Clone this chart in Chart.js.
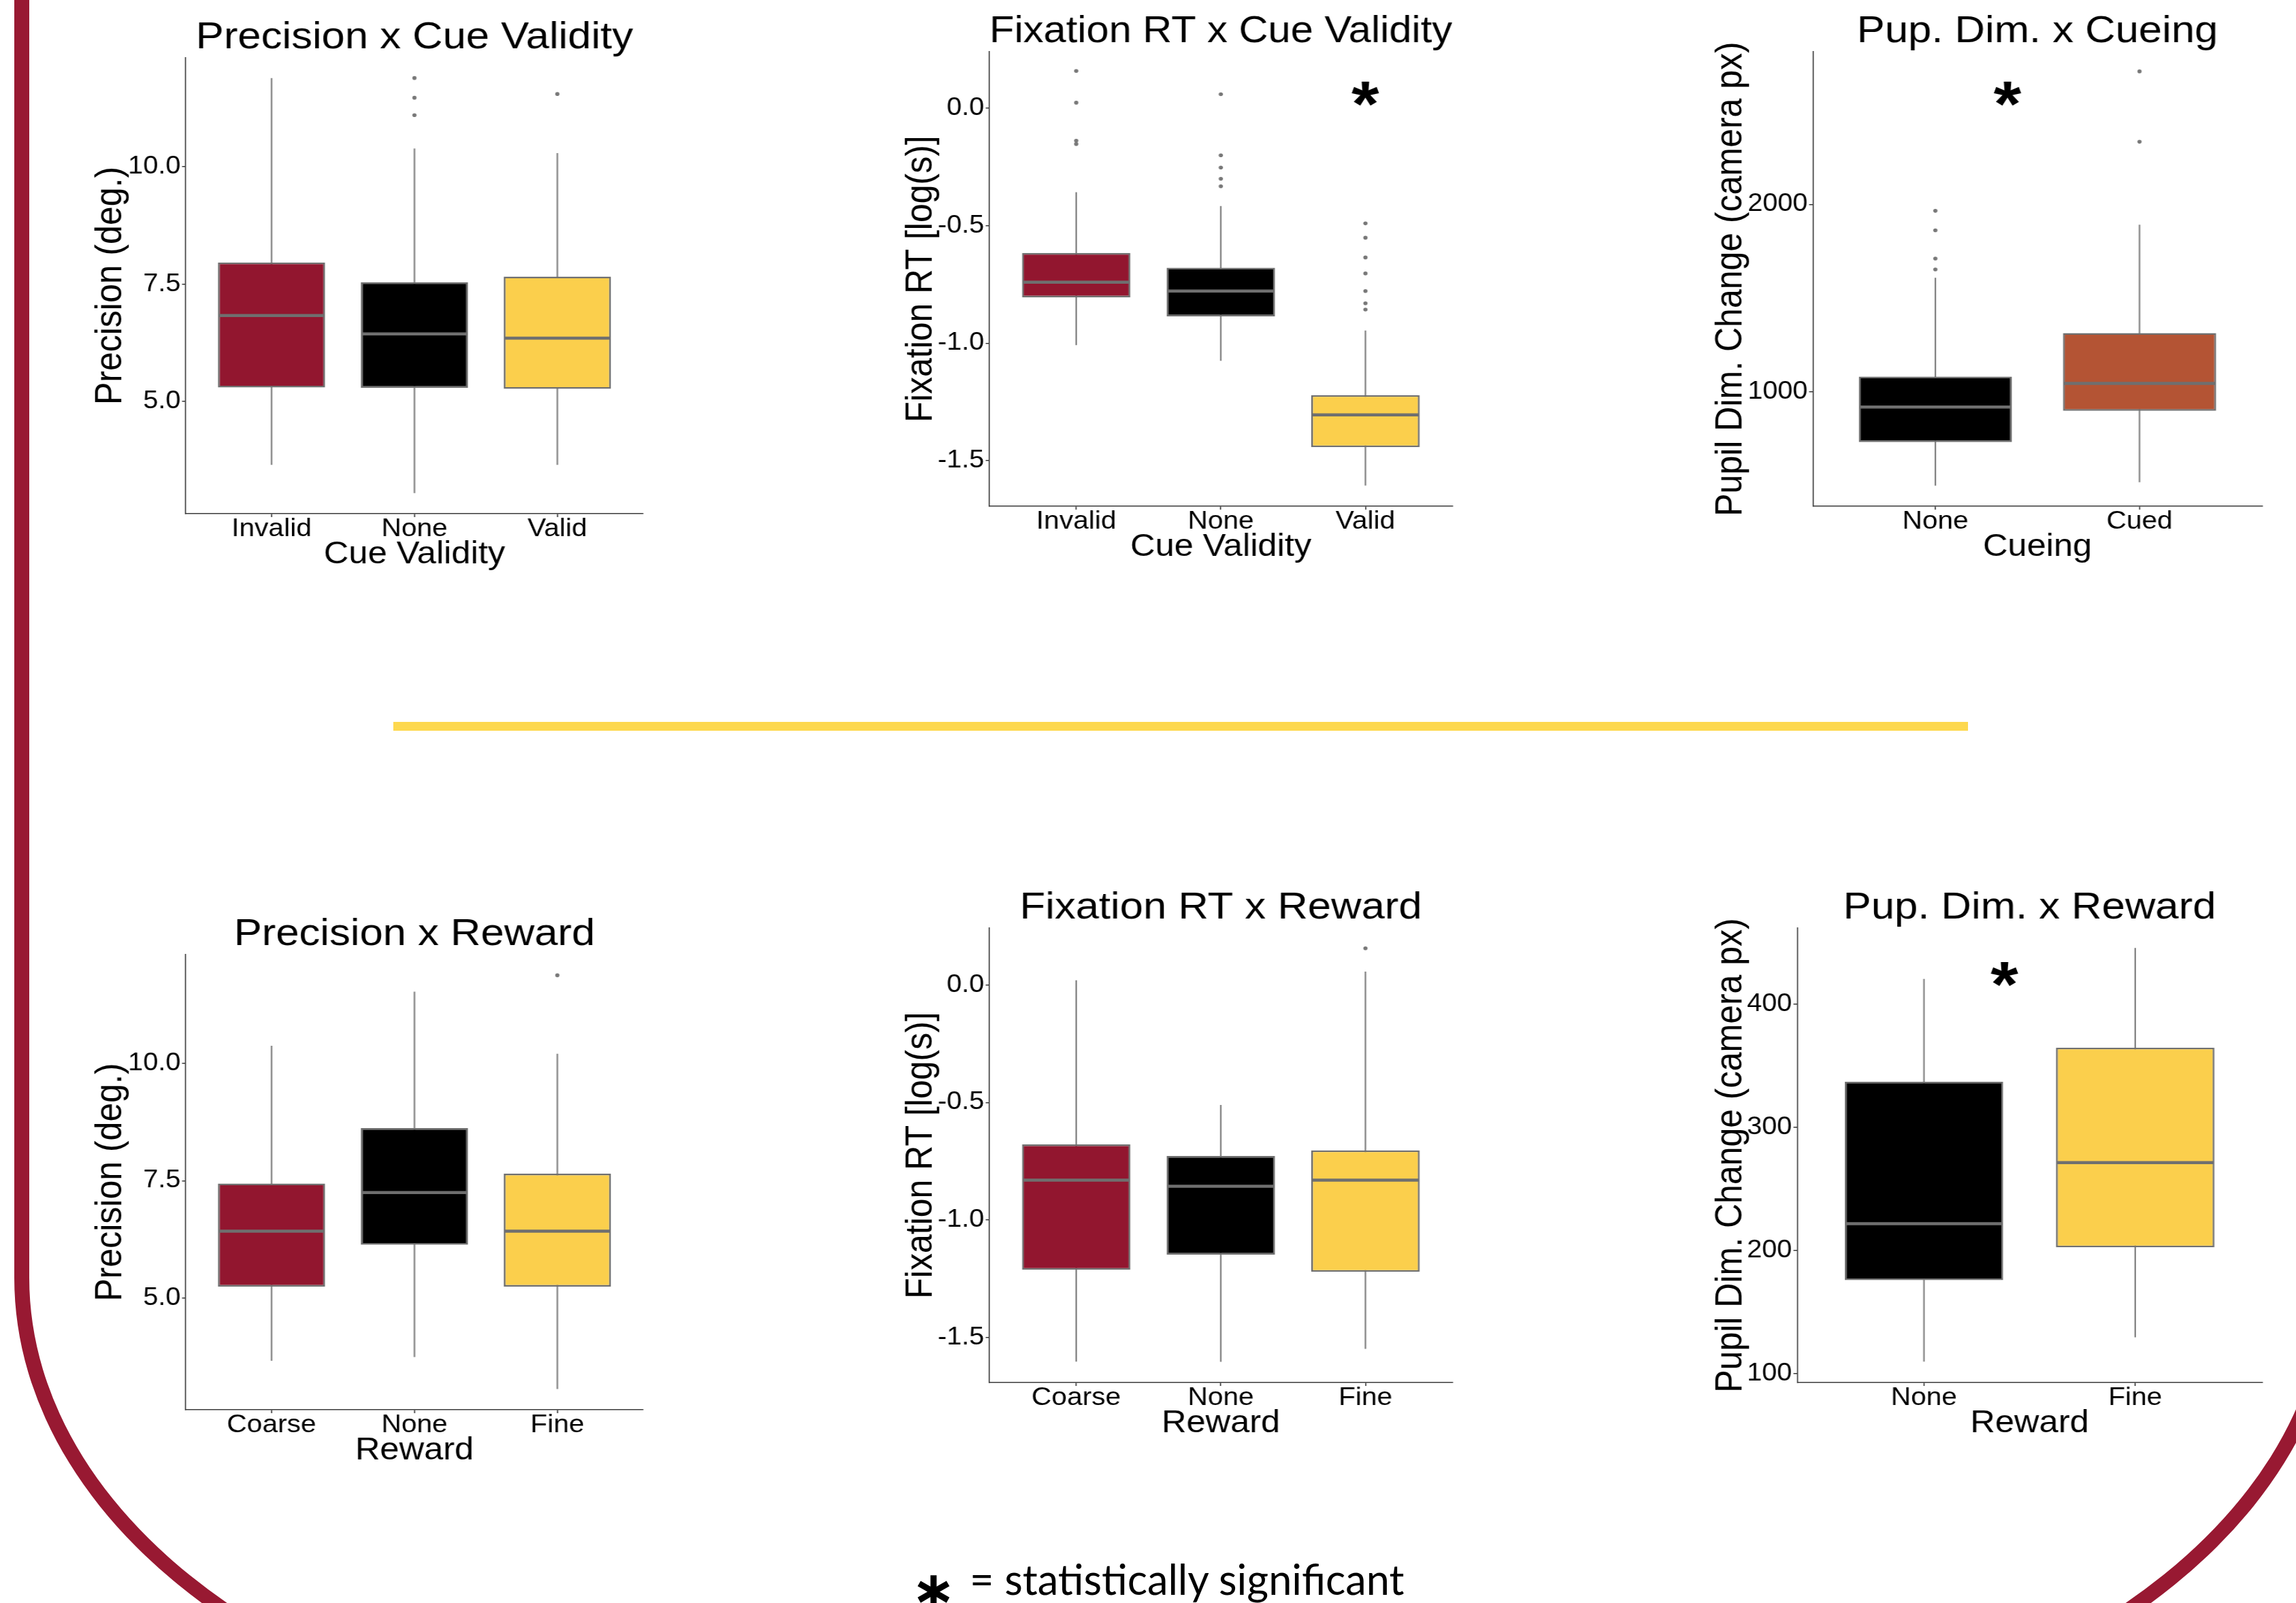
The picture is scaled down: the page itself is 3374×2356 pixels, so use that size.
<!DOCTYPE html>
<html>
<head>
<meta charset="utf-8">
<script src="https://cdn.jsdelivr.net/npm/chart.js@4.4.0/dist/chart.umd.min.js"></script>
<style>
  html, body { margin: 0; padding: 0; background: #fff; }
  body { position: relative; width: 3374px; height: 2356px; overflow: hidden; }
  .frame {
    position: absolute; left: 21px; top: -100px; width: 3417px; height: 2689px;
    box-sizing: border-box; border: 22px solid #981932;
    border-radius: 0 0 1067px 1061px / 0 0 711px 711px;
  }
  .rule { position: absolute; left: 578px; top: 1061px; width: 2314px; height: 13px; background: #fdd84f; }
  .panel { position: absolute; transform-origin: 0 0; transform: scaleX(1.1); }
  .panel canvas { display: block; }
  #noteStar {
    position: absolute; left: 1372px; top: 2337px; transform: translate(-50%, -50%);
    font: bold 78px "DejaVu Sans", sans-serif; line-height: 1; color: #000;
  }
  #noteText {
    position: absolute; left: 1425px; top: 2290px; white-space: nowrap;
    font-family: Lato, "Open Sans", sans-serif; font-size: 58px; line-height: 1; color: #000;
  }
</style>
</head>
<body>
<div class="frame"></div>
<div class="rule"></div>
<span id="noteStar">∗</span>
<span id="noteText">= statistically significant</span>

<script>
// categories
var cueCats = ['Invalid', 'None', 'Valid'];
var rewardCats = ['Coarse', 'None', 'Fine'];
var cueingCats = ['None', 'Cued'];
var pupRewardCats = ['None', 'Fine'];

// y tick values and labels
var precTicks = [5, 7.5, 10];
var precTickLabels = ['5.0', '7.5', '10.0'];
var rtTicks = [-1.5, -1, -0.5, 0];
var rtTickLabels = ['-1.5', '-1.0', '-0.5', '0.0'];
var pupCueTicks = [1000, 2000];
var pupCueTickLabels = ['1000', '2000'];
var pupRewTicks = [100, 200, 300, 400];
var pupRewTickLabels = ['100', '200', '300', '400'];

// Precision x Cue Validity
var precCueLow = [3.65, 3.05, 3.65];
var precCueQ1 = [5.30, 5.29, 5.27];
var precCueMed = [6.83, 6.44, 6.35];
var precCueQ3 = [7.96, 7.54, 7.66];
var precCueHigh = [11.89, 10.39, 10.29];
var precCueOut = [[], [11.89, 11.47, 11.10], [11.55]];

// Fixation RT x Cue Validity
var rtCueLow = [-1.008, -1.075, -1.606];
var rtCueQ1 = [-0.805, -0.886, -1.443];
var rtCueMed = [-0.740, -0.778, -1.305];
var rtCueQ3 = [-0.616, -0.679, -1.221];
var rtCueHigh = [-0.357, -0.416, -0.946];
var rtCueOut = [[0.159, 0.024, -0.138, -0.152], [0.060, -0.200, -0.252, -0.300, -0.332], [-0.490, -0.551, -0.635, -0.703, -0.778, -0.830, -0.857]];
var rtCueStar = [3, 0.061];

// Pup. Dim. x Cueing
var pupCueLow = [498, 516];
var pupCueQ1 = [731, 898];
var pupCueMed = [918, 1044];
var pupCueQ3 = [1080, 1313];
var pupCueHigh = [1608, 1892];
var pupCueOut = [[1966, 1862, 1711, 1653], [2711, 2335]];
var pupCueStar = [1.353, 2592];

// Precision x Reward
var precRewLow = [3.67, 3.75, 3.07];
var precRewQ1 = [5.25, 6.14, 5.25];
var precRewMed = [6.43, 7.25, 6.43];
var precRewQ3 = [7.44, 8.62, 7.65];
var precRewHigh = [10.37, 11.52, 10.20];
var precRewOut = [[], [], [11.87]];

// Fixation RT x Reward
var rtRewLow = [-1.603, -1.604, -1.549];
var rtRewQ1 = [-1.212, -1.148, -1.221];
var rtRewMed = [-0.831, -0.857, -0.831];
var rtRewQ3 = [-0.679, -0.728, -0.704];
var rtRewHigh = [0.020, -0.511, 0.057];
var rtRewOut = [[], [], [0.156]];

// Pup. Dim. x Reward
var pupRewLow = [109.8, 129.5];
var pupRewQ1 = [176.0, 202.6];
var pupRewMed = [221.8, 271.4];
var pupRewQ3 = [337.2, 364.9];
var pupRewHigh = [420.7, 445.8];
var pupRewOut = [[], []];
var pupRewStar = [1.381, 424.4];

var CRIMSON = '#92162f', BLACK = '#000000', YELLOW = '#fbcf4c', RUST = '#b45434';
var EDGE = '#6f6f6f', WHISKER = '#7b7b7b', DOT = '#787878', AXIS = '#3a3a3a';
var FONT = '"Liberation Sans", Arial, Helvetica, sans-serif';
var K = 1.1;

Chart.defaults.font.family = FONT;
Chart.defaults.color = '#000';

var panels = [
  { title: 'Precision x Cue Validity', xTitle: 'Cue Validity', yTitle: 'Precision (deg.)',
    cats: cueCats, low: precCueLow, q1: precCueQ1, med: precCueMed, q3: precCueQ3, high: precCueHigh, out: precCueOut,
    colors: [CRIMSON, BLACK, YELLOW], ticks: precTicks, tickLabels: precTickLabels, yMin: 2.61, yMax: 12.32, star: null,
    box: { cl: 110, ct: 0, cw: 860, ch: 860, l: 273, r: 945, t: 85, b: 755, yTitleTop: 143 } },
  { title: 'Fixation RT x Cue Validity', xTitle: 'Cue Validity', yTitle: 'Fixation RT [log(s)]',
    cats: cueCats, low: rtCueLow, q1: rtCueQ1, med: rtCueMed, q3: rtCueQ3, high: rtCueHigh, out: rtCueOut,
    colors: [CRIMSON, BLACK, YELLOW], ticks: rtTicks, tickLabels: rtTickLabels, yMin: -1.694, yMax: 0.241, star: rtCueStar,
    box: { cl: 1290, ct: 0, cw: 870, ch: 860, l: 1454, r: 2134, t: 76, b: 744, yTitleTop: 1334 } },
  { title: 'Pup. Dim. x Cueing', xTitle: 'Cueing', yTitle: 'Pupil Dim. Change (camera px)',
    cats: cueingCats, low: pupCueLow, q1: pupCueQ1, med: pupCueMed, q3: pupCueQ3, high: pupCueHigh, out: pupCueOut,
    colors: [BLACK, RUST], ticks: pupCueTicks, tickLabels: pupCueTickLabels, yMin: 388, yMax: 2816, star: pupCueStar,
    box: { cl: 2480, ct: 0, cw: 880, ch: 860, l: 2664, r: 3324, t: 76, b: 744, yTitleTop: 2524 } },
  { title: 'Precision x Reward', xTitle: 'Reward', yTitle: 'Precision (deg.)',
    cats: rewardCats, low: precRewLow, q1: precRewQ1, med: precRewMed, q3: precRewQ3, high: precRewHigh, out: precRewOut,
    colors: [CRIMSON, BLACK, YELLOW], ticks: precTicks, tickLabels: precTickLabels, yMin: 2.63, yMax: 12.31, star: null,
    box: { cl: 110, ct: 1290, cw: 860, ch: 890, l: 273, r: 945, t: 1403, b: 2072, yTitleTop: 143 } },
  { title: 'Fixation RT x Reward', xTitle: 'Reward', yTitle: 'Fixation RT [log(s)]',
    cats: rewardCats, low: rtRewLow, q1: rtRewQ1, med: rtRewMed, q3: rtRewQ3, high: rtRewHigh, out: rtRewOut,
    colors: [CRIMSON, BLACK, YELLOW], ticks: rtTicks, tickLabels: rtTickLabels, yMin: -1.692, yMax: 0.242, star: null,
    box: { cl: 1290, ct: 1290, cw: 870, ch: 890, l: 1454, r: 2134, t: 1364, b: 2032, yTitleTop: 1334 } },
  { title: 'Pup. Dim. x Reward', xTitle: 'Reward', yTitle: 'Pupil Dim. Change (camera px)',
    cats: pupRewardCats, low: pupRewLow, q1: pupRewQ1, med: pupRewMed, q3: pupRewQ3, high: pupRewHigh, out: pupRewOut,
    colors: [BLACK, YELLOW], ticks: pupRewTicks, tickLabels: pupRewTickLabels, yMin: 92.8, yMax: 462, star: pupRewStar,
    box: { cl: 2480, ct: 1290, cw: 880, ch: 890, l: 2641, r: 3324, t: 1364, b: 2032, yTitleTop: 2524 } }
];

// whiskers under the boxes, medians and the significance star on top
function boxExtras(p) {
  return {
    id: 'boxExtras',
    beforeDatasetsDraw: function (chart) {
      var ctx = chart.ctx, xs = chart.scales.x, ys = chart.scales.y;
      ctx.save();
      ctx.strokeStyle = WHISKER;
      ctx.lineWidth = 2;
      p.low.forEach(function (lo, i) {
        var px = xs.getPixelForValue(i + 1);
        ctx.beginPath();
        ctx.moveTo(px, ys.getPixelForValue(lo));
        ctx.lineTo(px, ys.getPixelForValue(p.high[i]));
        ctx.stroke();
      });
      ctx.restore();
    },
    afterDatasetsDraw: function (chart) {
      var ctx = chart.ctx, xs = chart.scales.x, ys = chart.scales.y;
      var bars = chart.getDatasetMeta(0).data;
      ctx.save();
      ctx.strokeStyle = EDGE;
      ctx.lineWidth = 4.5;
      bars.forEach(function (bar, i) {
        var py = ys.getPixelForValue(p.med[i]);
        ctx.beginPath();
        ctx.moveTo(bar.x - bar.width / 2 + 1, py);
        ctx.lineTo(bar.x + bar.width / 2 - 1, py);
        ctx.stroke();
      });
      if (p.star) {
        ctx.font = 'bold 100px ' + FONT;
        var m = ctx.measureText('*');
        var size = 100 * 36 / (m.actualBoundingBoxAscent + m.actualBoundingBoxDescent);
        ctx.font = 'bold ' + size + 'px ' + FONT;
        m = ctx.measureText('*');
        var sx = xs.getPixelForValue(p.star[0]), sy = ys.getPixelForValue(p.star[1]);
        ctx.fillStyle = '#000';
        ctx.textAlign = 'left';
        ctx.textBaseline = 'alphabetic';
        ctx.fillText('*', sx - (m.actualBoundingBoxRight - m.actualBoundingBoxLeft) / 2,
          sy + (m.actualBoundingBoxAscent - m.actualBoundingBoxDescent) / 2);
      }
      ctx.restore();
    }
  };
}

function drawPanel(p) {
  var b = p.box;
  var toX = function (fx) { return (fx - b.cl) / K; };
  var width = Math.round(b.cw / K);
  var left = toX(b.l), right = toX(b.r);
  var top = b.t - b.ct, bottom = b.b - b.ct;
  var yTitleMid = toX(b.yTitleTop + 18.5 * K);
  var padLeft = yTitleMid - 25;

  var wrap = document.createElement('div');
  wrap.className = 'panel';
  wrap.style.left = b.cl + 'px';
  wrap.style.top = b.ct + 'px';
  var canvas = document.createElement('canvas');
  canvas.width = width;
  canvas.height = b.ch;
  wrap.appendChild(canvas);
  document.body.appendChild(wrap);

  var outliers = [];
  p.out.forEach(function (vals, i) {
    vals.forEach(function (v) { outliers.push({ x: i + 1, y: v }); });
  });

  new Chart(canvas.getContext('2d'), {
    type: 'bar',
    data: {
      datasets: [{
        type: 'bar',
        data: p.cats.map(function (c, i) { return { x: i + 1, y: [p.q1[i], p.q3[i]] }; }),
        backgroundColor: p.colors,
        borderColor: EDGE,
        borderWidth: 2.5,
        borderSkipped: false,
        barPercentage: 0.75,
        categoryPercentage: 1,
        order: 2
      }, {
        type: 'scatter',
        data: outliers,
        pointRadius: 2.8,
        pointBackgroundColor: DOT,
        pointBorderWidth: 0,
        order: 1
      }]
    },
    options: {
      responsive: false,
      animation: false,
      events: [],
      layout: { padding: { left: padLeft, right: width - right, top: 0, bottom: 0 } },
      plugins: {
        legend: { display: false },
        tooltip: { enabled: false },
        title: {
          display: true, text: p.title, fullSize: false, color: '#000',
          font: { size: 56, weight: 'normal', lineHeight: 0.9 },
          padding: { top: top - 29 - 25.2, bottom: 3.8 }
        }
      },
      scales: {
        x: {
          type: 'linear',
          offset: false,
          min: 0.4,
          max: p.cats.length + 0.6,
          afterBuildTicks: function (s) { s.ticks = p.cats.map(function (c, i) { return { value: i + 1 }; }); },
          afterFit: function (s) { s.height = b.ch - bottom; s.paddingLeft = 0; s.paddingRight = 0; },
          ticks: {
            autoSkip: false, maxRotation: 0, padding: -1, color: '#000',
            font: { size: 37, lineHeight: 1 },
            callback: function (v) { return p.cats[Math.round(v) - 1]; }
          },
          grid: { display: true, offset: false, drawOnChartArea: false, drawTicks: true, tickLength: 5, color: '#333', lineWidth: 1.5 },
          border: { display: true, color: AXIS, width: 1.5 },
          title: {
            display: true, text: p.xTitle, color: '#000',
            font: { size: 46, lineHeight: 1 },
            padding: { top: 0, bottom: b.ch - bottom - 60 - 23 }
          }
        },
        y: {
          min: p.yMin,
          max: p.yMax,
          afterBuildTicks: function (s) { s.ticks = p.ticks.map(function (v) { return { value: v }; }); },
          afterFit: function (s) { s.width = left - padLeft; s.paddingTop = 0; s.paddingBottom = 0; },
          ticks: {
            padding: 2, color: '#000',
            font: { size: 36, lineHeight: 1 },
            callback: function (v, i) { return p.tickLabels[i]; }
          },
          grid: { display: true, drawOnChartArea: false, drawTicks: true, tickLength: 5, color: '#333', lineWidth: 1.5 },
          border: { display: true, color: AXIS, width: 1.5 },
          title: {
            display: true, text: p.yTitle, color: '#000',
            font: { size: 50, lineHeight: 1 },
            padding: { top: 0, bottom: 0 }
          }
        }
      }
    },
    plugins: [boxExtras(p)]
  });
}

panels.forEach(drawPanel);

// fit the note text to the width it has in the figure
var note = document.getElementById('noteText');
var mctx = document.createElement('canvas').getContext('2d');
mctx.font = '100px Lato';
var noteSize = 100 * 640 / mctx.measureText(note.textContent).width;
note.style.fontSize = noteSize + 'px';
note.style.top = (2344 - 0.887 * noteSize) + 'px';
</script>
</body>
</html>
